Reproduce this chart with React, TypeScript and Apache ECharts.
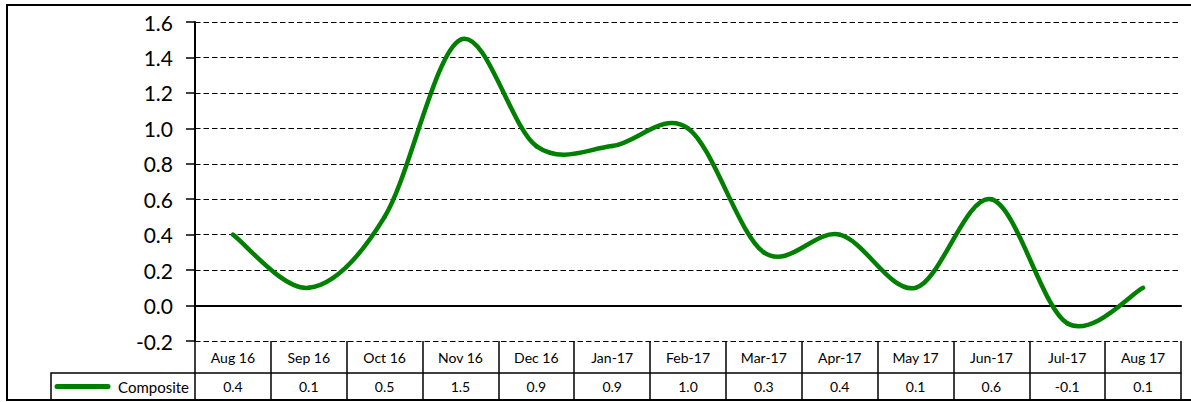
import React, { useEffect, useRef } from "react";
import * as echarts from "echarts";

const categories = [
  "Aug 16", "Sep 16", "Oct 16", "Nov 16", "Dec 16", "Jan-17", "Feb-17",
  "Mar-17", "Apr-17", "May 17", "Jun-17", "Jul-17", "Aug 17",
];
const composite = [0.4, 0.1, 0.5, 1.5, 0.9, 0.9, 1.0, 0.3, 0.4, 0.1, 0.6, -0.1, 0.1];
const seriesName = "Composite";
const yMin = -0.2;
const yMax = 1.6;
const yStep = 0.2;

const FONT = "Lato, 'Open Sans', sans-serif";

// One segment per pair of neighbouring points, with the points on either side
// so that the curve can be smoothed the way a spreadsheet does it.
const n = composite.length;
const segments = composite.slice(0, -1).map((v, i) => [
  i,
  composite[Math.max(i - 1, 0)],
  v,
  composite[i + 1],
  composite[Math.min(i + 2, n - 1)],
]);

export default function App() {
  const ref = useRef<HTMLDivElement>(null);
  useEffect(() => {
    if (!ref.current) return;
    const chart = echarts.init(ref.current, null, { renderer: "svg" });
    chart.setOption({
      animation: false,
      backgroundColor: "#ffffff",
      textStyle: { fontFamily: FONT },
      grid: {
        left: 195,
        right: 10,
        top: 22,
        bottom: 61,
        containLabel: false,
        outerBoundsMode: "none",
      },
      yAxis: {
        type: "value",
        min: yMin,
        max: yMax,
        interval: yStep,
        axisLine: { show: true, lineStyle: { color: "#000", width: 2 } },
        axisTick: { show: true, length: 9, lineStyle: { color: "#000", width: 1.5 } },
        axisLabel: {
          color: "#000",
          fontSize: 21,
          fontFamily: FONT,
          margin: 22,
          formatter: (v: number) => (Math.abs(v) < 1e-9 ? 0 : v).toFixed(1),
        },
        splitLine: {
          show: true,
          lineStyle: { color: "#000", width: 1, type: [5.5, 3] },
        },
      },
      xAxis: [
        {
          type: "category",
          data: categories,
          boundaryGap: true,
          position: "bottom",
          axisLine: { show: true, onZero: true, lineStyle: { color: "#000", width: 2 } },
          axisTick: { show: false },
          axisLabel: { show: false },
          splitLine: { show: false },
        },
        {
          type: "category",
          data: categories,
          boundaryGap: true,
          position: "bottom",
          offset: 0,
          axisLine: { show: false, onZero: false },
          axisTick: { show: true, length: 31.5, interval: 0, lineStyle: { color: "#000", width: 1.5 } },
          axisLabel: {
            show: true,
            interval: 0,
            color: "#000",
            fontSize: 14,
            fontFamily: FONT,
            verticalAlign: "middle",
            margin: 16,
          },
        },
        {
          type: "category",
          data: categories,
          boundaryGap: true,
          position: "bottom",
          offset: 31.5,
          axisLine: { show: true, onZero: false, lineStyle: { color: "#000", width: 1.5 } },
          axisTick: { show: true, length: 28, interval: 0, lineStyle: { color: "#000", width: 1.5 } },
          axisLabel: {
            show: true,
            interval: 0,
            color: "#000",
            fontSize: 14,
            fontFamily: FONT,
            verticalAlign: "middle",
            margin: 14,
            formatter: (_v: string, i: number) => composite[i].toFixed(1),
          },
        },
      ],
      series: [
        {
          name: seriesName,
          type: "custom",
          xAxisIndex: 0,
          yAxisIndex: 0,
          data: segments,
          encode: { x: 0, y: 2 },
          clip: false,
          z: 5,
          renderItem: (_params: any, api: any) => {
            const i = api.value(0);
            const yPrev = api.value(1);
            const y0 = api.value(2);
            const y1 = api.value(3);
            const yNext = api.value(4);
            const pPrev = api.coord([Math.max(i - 1, 0), yPrev]);
            const p0 = api.coord([i, y0]);
            const p1 = api.coord([i + 1, y1]);
            const pNext = api.coord([Math.min(i + 2, n - 1), yNext]);
            return {
              type: "bezierCurve",
              shape: {
                x1: p0[0],
                y1: p0[1],
                x2: p1[0],
                y2: p1[1],
                cpx1: p0[0] + (p1[0] - pPrev[0]) / 6,
                cpy1: p0[1] + (p1[1] - pPrev[1]) / 6,
                cpx2: p1[0] - (pNext[0] - p0[0]) / 6,
                cpy2: p1[1] - (pNext[1] - p0[1]) / 6,
              },
              style: {
                fill: "none",
                stroke: "#008000",
                lineWidth: 4.5,
                lineCap: "round",
              },
            };
          },
        },
      ],
      graphic: [
        {
          type: "rect",
          shape: { x: 7, y: 5, width: 1200, height: 395 },
          style: { fill: "none", stroke: "#000", lineWidth: 2 },
          silent: true,
          z: 100,
        },
        {
          type: "polyline",
          shape: { points: [[51, 400], [51, 373], [195, 373]] },
          style: { fill: "none", stroke: "#000", lineWidth: 1.5 },
          silent: true,
          z: 100,
        },
        {
          type: "line",
          shape: { x1: 57, y1: 386.5, x2: 108, y2: 386.5 },
          style: { stroke: "#008000", lineWidth: 5, lineCap: "round" },
          silent: true,
          z: 100,
        },
        {
          type: "text",
          x: 189,
          y: 387,
          style: {
            text: seriesName,
            fill: "#000",
            font: `15px ${FONT}`,
            align: "right",
            verticalAlign: "middle",
          },
          silent: true,
          z: 100,
        },
      ],
    });
    return () => chart.dispose();
  }, []);
  return (
    <div
      ref={ref}
      style={{ position: "fixed", left: 0, top: 0, width: 1191, height: 402 }}
    />
  );
}
